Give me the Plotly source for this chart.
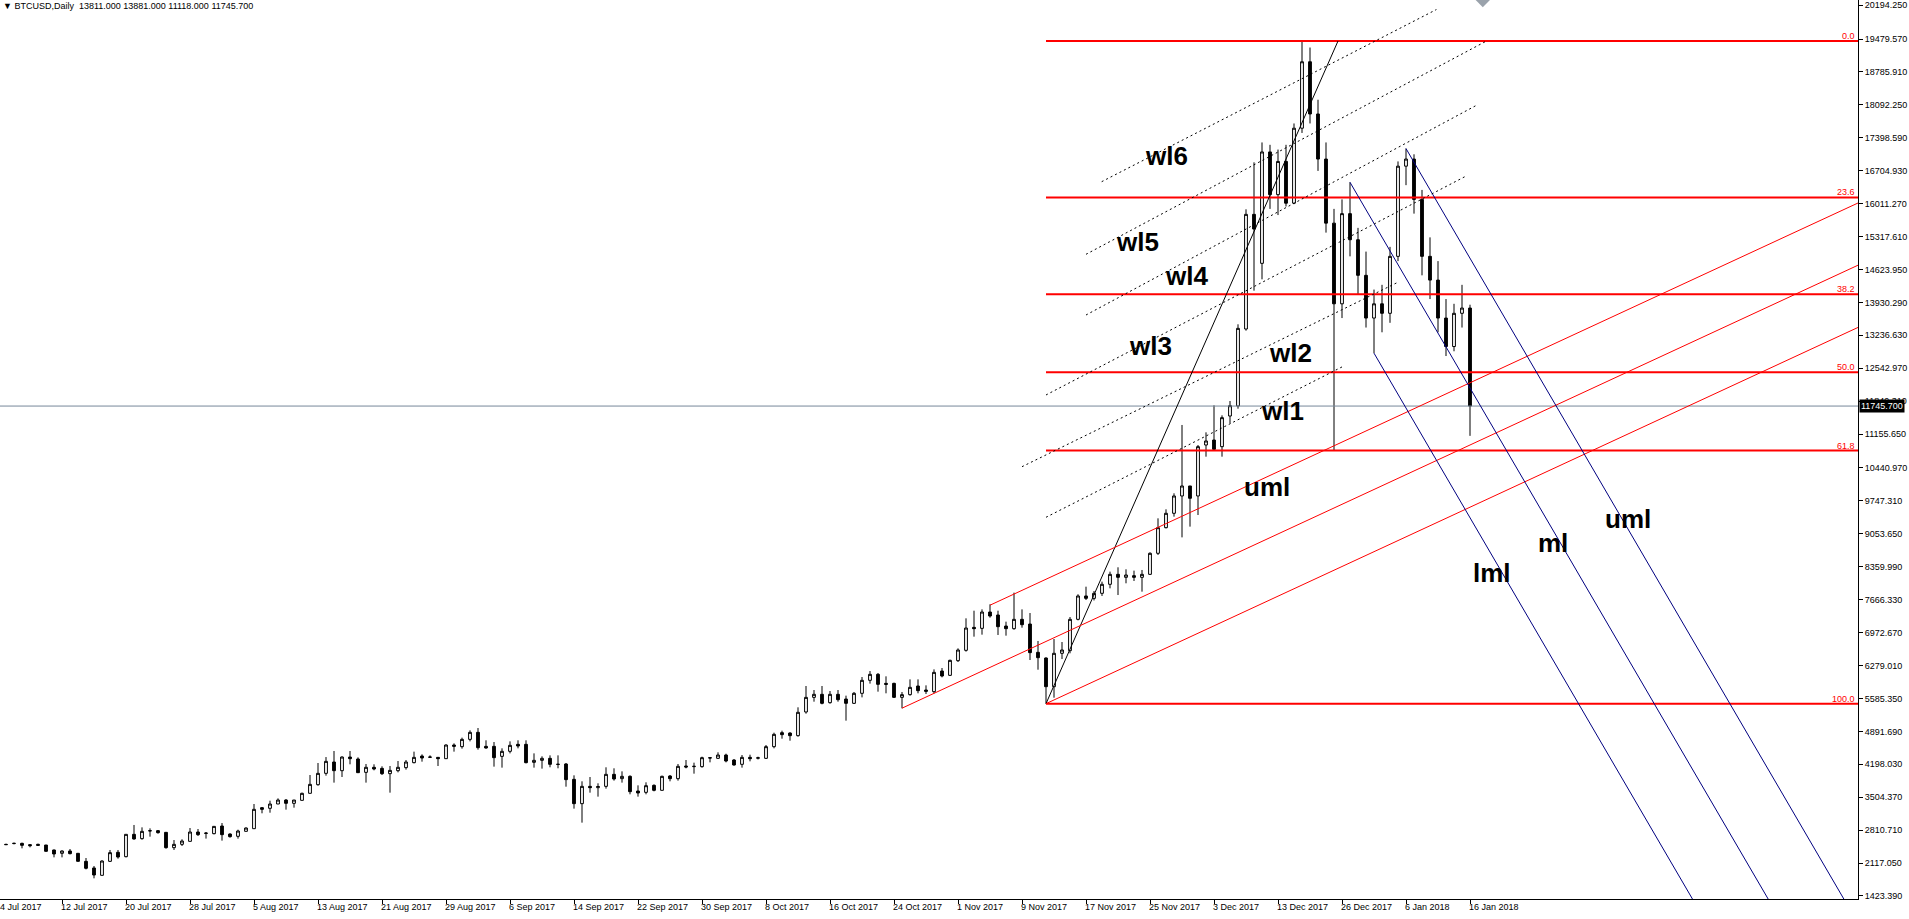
import plotly.graph_objects as go

# MT4 daily BTCUSD, bar 0 = 4 Jul 2017, bar 184 = 16 Jan 2018
opens = [
    2515, 2510, 2527, 2532, 2505, 2511, 2497, 2392, 2322, 2371,
    2322, 2153, 2013, 1858, 2153, 2343, 2251, 2722, 2631, 2792,
    2800, 2764, 2441, 2511, 2574, 2771, 2750, 2736, 2897, 2729,
    2680, 2785, 2841, 3284, 3270, 3361, 3445, 3375, 3438, 3586,
    3768, 4007, 4246, 4063, 4351, 4309, 4028, 4134, 4112, 4000,
    4063, 4127, 4232, 4372, 4344, 4344, 4316, 4604, 4569, 4723,
    4871, 4576, 4576, 4365, 4471, 4618, 4618, 4239, 4281, 4323,
    4200, 4204, 3881, 3368, 3733, 3705, 3733, 3986, 3895, 3944,
    3635, 3607, 3754, 3649, 3951, 3895, 4162, 4148, 4148, 4337,
    4323, 4393, 4288, 4197, 4344, 4325, 4323, 4569, 4864, 4857,
    4801, 5300, 5608, 5672, 5496, 5672, 5573, 5482, 5693, 5967,
    6093, 5903, 5903, 5608, 5665, 5847, 5763, 5728, 6163, 6072,
    6381, 6599, 7083, 7062, 7406, 7343, 7111, 7055, 7252, 7153,
    6557, 6437, 5833, 6536, 6592, 7252, 7744, 7694, 7800, 7990,
    8200, 8137, 8172, 8137, 8200, 8643, 9183, 9486, 9851, 10062,
    9851, 10925, 11030, 10890, 11536, 11747, 13369, 15785, 14753, 17100,
    16200, 16900, 16020, 17600, 19000, 17900, 16950, 15600, 13900, 15800,
    15250, 14500, 13600, 13900, 13700, 14900, 16800, 16950, 16100, 14900,
    14400, 13600, 13000, 13700, 13811,
]
highs = [
    2530, 2525, 2546, 2546, 2511, 2525, 2497, 2400, 2385, 2413,
    2322, 2223, 2055, 2174, 2392, 2392, 2722, 2919, 2869, 2848,
    2813, 2764, 2602, 2617, 2855, 2834, 2771, 2890, 2960, 2743,
    2820, 2869, 3361, 3298, 3431, 3480, 3466, 3445, 3600, 3972,
    4225, 4350, 4478, 4365, 4478, 4344, 4204, 4197, 4155, 4162,
    4267, 4288, 4464, 4407, 4386, 4344, 4618, 4639, 4759, 4913,
    4962, 4703, 4667, 4534, 4681, 4703, 4703, 4428, 4365, 4386,
    4386, 4225, 3965, 3839, 3930, 3797, 4134, 4113, 4049, 3965,
    3754, 3818, 3775, 3958, 3972, 4204, 4288, 4232, 4358, 4350,
    4450, 4421, 4309, 4393, 4400, 4358, 4604, 4864, 4906, 4871,
    5398, 5847, 5763, 5847, 5742, 5763, 5644, 5721, 6037, 6163,
    6121, 6051, 5917, 5721, 5987, 5987, 5861, 6198, 6226, 6402,
    6641, 7273, 7434, 7462, 7568, 7434, 7203, 7814, 7462, 7385,
    6796, 6451, 6838, 6774, 7301, 7780, 7940, 7849, 8046, 8257,
    8348, 8306, 8278, 8292, 8664, 9380, 9570, 9907, 11347, 10062,
    10925, 11192, 11761, 11550, 11852, 13468, 15891, 16881, 17300, 17250,
    17150, 17250, 17700, 19437, 19300, 18200, 17300, 15900, 16100, 16460,
    15500, 15000, 14200, 14300, 15100, 16900, 17171, 17050, 16300, 15300,
    14800, 14000, 13900, 14300, 13881,
]
lows = [
    2495, 2497, 2511, 2427, 2448, 2483, 2357, 2237, 2237, 2300,
    2150, 1984, 1795, 1858, 2139, 2209, 2237, 2610, 2610, 2673,
    2736, 2420, 2392, 2476, 2574, 2687, 2632, 2722, 2589, 2652,
    2631, 2785, 2841, 3165, 3178, 3361, 3242, 3284, 3438, 3586,
    3747, 3958, 3811, 3930, 4197, 4021, 3811, 4070, 3972, 3600,
    4028, 4085, 4218, 4253, 4330, 4162, 4316, 4464, 4527, 4681,
    4506, 4527, 4148, 4127, 4428, 4534, 4218, 4127, 4106, 4134,
    4113, 3726, 3263, 2968, 3600, 3516, 3684, 3853, 3811, 3565,
    3516, 3565, 3628, 3649, 3839, 3853, 4113, 4000, 4127, 4239,
    4309, 4239, 4169, 4127, 4260, 4300, 4309, 4534, 4737, 4695,
    4780, 5264, 5517, 5461, 5475, 5517, 5117, 5468, 5608, 5897,
    5728, 5693, 5594, 5377, 5644, 5693, 5679, 5693, 6030, 6058,
    6353, 6571, 6887, 6929, 7287, 6922, 6908, 7034, 7076, 6395,
    6191, 5475, 5601, 6416, 6536, 7230, 7659, 7650, 7744, 7905,
    7764, 8011, 8060, 7835, 8186, 8608, 9169, 9415, 8979, 9205,
    9450, 10679, 10820, 10679, 11382, 11690, 13334, 14177, 14416, 15900,
    15770, 15950, 16000, 17500, 17700, 16700, 15400, 10800, 13600, 14900,
    14100, 13400, 12860, 13300, 13500, 14800, 16400, 15800, 14500, 14000,
    13300, 12800, 12900, 13400, 11118,
]
closes = [
    2508, 2505, 2532, 2490, 2483, 2490, 2364, 2308, 2371, 2315,
    2153, 2006, 1865, 2160, 2336, 2244, 2722, 2624, 2785, 2799,
    2757, 2441, 2511, 2581, 2771, 2715, 2743, 2890, 2715, 2673,
    2792, 2855, 3249, 3249, 3361, 3445, 3375, 3445, 3586, 3775,
    4007, 4260, 4063, 4351, 4316, 4021, 4134, 4098, 4000, 4070,
    4134, 4246, 4344, 4330, 4351, 4316, 4604, 4576, 4723, 4871,
    4548, 4541, 4337, 4471, 4597, 4583, 4232, 4281, 4323, 4197,
    4195, 3874, 3368, 3733, 3705, 3730, 3986, 3888, 3944, 3621,
    3593, 3747, 3649, 3944, 3895, 4155, 4141, 4155, 4337, 4330,
    4393, 4267, 4183, 4344, 4316, 4335, 4569, 4829, 4822, 4801,
    5293, 5608, 5672, 5482, 5672, 5559, 5482, 5693, 5967, 6093,
    5882, 5882, 5608, 5665, 5819, 5749, 5735, 6135, 6058, 6388,
    6606, 7069, 7055, 7406, 7322, 7097, 7055, 7252, 7139, 6550,
    6444, 5833, 6536, 6606, 7252, 7744, 7694, 7800, 7990, 8200,
    8137, 8186, 8137, 8200, 8643, 9183, 9486, 9851, 10062, 9802,
    10890, 11010, 10834, 11501, 11754, 13383, 15785, 15476, 17100, 16200,
    16900, 16020, 17600, 19000, 17900, 16950, 15600, 13900, 15800, 15250,
    14500, 13600, 13900, 13700, 14900, 16800, 16950, 16100, 14900, 14400,
    13600, 13000, 13700, 13811, 11745.7,
]
bars = list(range(len(opens)))

date_bars = list(range(0, 185, 8))
date_labels = ['4 Jul 2017', '12 Jul 2017', '20 Jul 2017', '28 Jul 2017', '5 Aug 2017',
               '13 Aug 2017', '21 Aug 2017', '29 Aug 2017', '6 Sep 2017', '14 Sep 2017',
               '22 Sep 2017', '30 Sep 2017', '8 Oct 2017', '16 Oct 2017', '24 Oct 2017',
               '1 Nov 2017', '9 Nov 2017', '17 Nov 2017', '25 Nov 2017', '3 Dec 2017',
               '13 Dec 2017', '26 Dec 2017', '6 Jan 2018', '16 Jan 2018']

price_ticks = [20194.25, 19479.57, 18785.91, 18092.25, 17398.59, 16704.93, 16011.27,
               15317.61, 14623.95, 13930.29, 13236.63, 12542.97, 11849.31, 11155.65,
               10440.97, 9747.31, 9053.65, 8359.99, 7666.33, 6972.67, 6279.01, 5585.35,
               4891.69, 4198.03, 3504.37, 2810.71, 2117.05, 1423.39]

bid = 11745.7

# fibonacci retracement anchors (bar, price)
fib_a = (131, 5475.0)
fib_b = (167.5, 19437.0)
fib_levels = [0.0, 23.6, 38.2, 50.0, 61.8, 100.0]

# andrews pitchfork pivots
red_fork = [(113, 5380), (124, 7550), (131, 5475)]
blue_fork = [(169, 16460), (176, 17171), (172, 12860)]

# dotted warning lines: start bar, start price, end bar, end price
wl_x0 = [137.96, 136.0, 136.0, 131.0, 128.0, 131.0]
wl_y0 = [16473, 14943, 13664, 11979, 10468, 9402]
wl_x1 = [179.8, 186.2, 185.0, 183.6, 175.0, 168.0]
wl_y1 = [20100, 19450, 18100, 16600, 14355, 12570]

label_text = ['wl6', 'wl5', 'wl4', 'wl3', 'wl2', 'wl1', 'uml', 'lml', 'ml', 'uml']
label_x = [146.1, 142.4, 148.6, 144.0, 161.5, 160.5, 158.6, 186.75, 194.4, 203.8]
label_y = [17014, 15202, 14486, 13011, 12864, 11642, 10040, 8228, 8860, 9366]

X_RANGE = [0.25, 232.5]
X_END = 260
PX_PER_BAR = 8
FONT = 'Liberation Sans'


def fork_lines(pivots):
    p1, p2, p3 = pivots
    mx = (p2[0] + p3[0]) / 2
    my = (p2[1] + p3[1]) / 2
    k = (my - p1[1]) / (mx - p1[0])
    xs, ys = [], []
    for x0, y0 in pivots:
        xs += [x0, X_END, None]
        ys += [y0, y0 + k * (X_END - x0), None]
    return xs, ys


fig = go.Figure()

fig.add_trace(go.Candlestick(
    x=bars, open=opens, high=highs, low=lows, close=closes,
    increasing=dict(line=dict(color='black', width=1), fillcolor='white'),
    decreasing=dict(line=dict(color='black', width=1), fillcolor='black'),
    whiskerwidth=0, hoverinfo='skip'))

# bid line
fig.add_trace(go.Scatter(x=[-5, X_END], y=[bid, bid], mode='lines',
                         line=dict(color='#778899', width=1), hoverinfo='skip'))

# fibonacci levels
span = fib_b[1] - fib_a[1]
fx, fy = [], []
for lv in fib_levels:
    p = fib_b[1] - span * lv / 100
    fx += [fib_a[0], X_END, None]
    fy += [p, p, None]
fig.add_trace(go.Scatter(x=fx, y=fy, mode='lines', line=dict(color='#ff0000', width=2),
                         hoverinfo='skip'))
fig.add_trace(go.Scatter(x=[fib_a[0], fib_b[0]], y=[fib_a[1], fib_b[1]], mode='lines',
                         line=dict(color='black', width=1), hoverinfo='skip'))

# pitchforks
rx, ry = fork_lines(red_fork)
fig.add_trace(go.Scatter(x=rx, y=ry, mode='lines', line=dict(color='#ff0000', width=1),
                         hoverinfo='skip'))
bx, by = fork_lines(blue_fork)
fig.add_trace(go.Scatter(x=bx, y=by, mode='lines', line=dict(color='#000080', width=1),
                         hoverinfo='skip'))

# warning lines
wx, wy = [], []
for a, b, c, d in zip(wl_x0, wl_y0, wl_x1, wl_y1):
    wx += [a, c, None]
    wy += [b, d, None]
fig.add_trace(go.Scatter(x=wx, y=wy, mode='lines',
                         line=dict(color='black', width=1, dash='2px,3px'), hoverinfo='skip'))

# small object at the top edge
fig.add_trace(go.Scatter(x=[185.6], y=[20301.3], mode='markers',
                         marker=dict(symbol='diamond', size=11, color='#9aa2ab'),
                         hoverinfo='skip'))

ann = []
for t, x, y in zip(label_text, label_x, label_y):
    ann.append(dict(x=x, y=y, text='<b>' + t + '</b>', showarrow=False,
                    font=dict(family=FONT, size=26, color='black')))
for lv in fib_levels:
    p = fib_b[1] - span * lv / 100
    ann.append(dict(x=1, xref='paper', y=p, xanchor='right', yanchor='bottom',
                    text='%.1f' % lv, showarrow=False, xshift=-1, yshift=-2,
                    font=dict(family=FONT, size=9, color='#ff0000')))
for b, t in zip(date_bars, date_labels):
    xa = max(b, X_RANGE[0])
    shift = -3 if xa == b else -2
    ann.append(dict(x=xa, y=0, yref='paper', xanchor='left', yanchor='top', text=t,
                    showarrow=False, xshift=shift, yshift=-1,
                    font=dict(family=FONT, size=9, color='black')))
ann.append(dict(x=1, xref='paper', y=bid, xanchor='left', yanchor='middle',
                text='%.3f' % bid, showarrow=False, xshift=1, bgcolor='black', borderpad=1,
                font=dict(family=FONT, size=9, color='white')))
ann.append(dict(x=0, xref='paper', y=1, yref='paper', xanchor='left', yanchor='top',
                text='\u25bc BTCUSD,Daily\u00a0\u00a0%.3f %.3f %.3f %.3f'
                     % (opens[-1], highs[-1], lows[-1], closes[-1]),
                showarrow=False, xshift=1, yshift=1,
                font=dict(family=FONT, size=9, color='black')))

fig.update_layout(
    width=1909, height=919,
    margin=dict(l=0, r=51, t=0, b=20),
    paper_bgcolor='white', plot_bgcolor='white',
    showlegend=False, hovermode=False, boxgap=0.5,
    annotations=ann,
    xaxis=dict(range=X_RANGE, showgrid=False, zeroline=False, showline=True,
               linecolor='black', linewidth=1, ticks='outside', ticklen=4,
               tickcolor='black', tickvals=date_bars, ticktext=[''] * len(date_bars),
               rangeslider=dict(visible=False), fixedrange=True),
    yaxis=dict(side='right', range=[1359.4, 20301.3], showgrid=False, zeroline=False,
               showline=True, linecolor='black', linewidth=1, ticks='outside',
               ticklen=4, tickcolor='black', tickvals=price_ticks,
               ticktext=['%.3f' % v for v in price_ticks],
               tickfont=dict(family=FONT, size=9, color='black'), fixedrange=True),
)

fig.write_html('out.html', config={'displayModeBar': False},
               post_script="document.body.style.margin='0';"
                           "document.body.style.overflow='hidden';")
